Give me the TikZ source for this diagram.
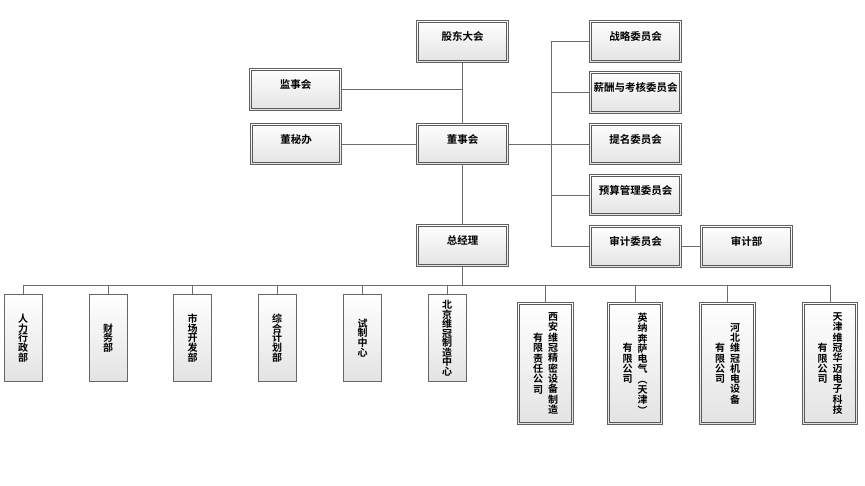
\documentclass[tikz,border=0pt]{standalone}
\usepackage{fontspec}
\setmainfont{Noto Sans CJK SC}[BoldFont={Noto Sans CJK SC Bold}]
\usetikzlibrary{positioning}
\newcommand{\vcol}[2][10pt]{\parbox[c]{1em}{\centering\lineskiplimit=-\maxdimen\baselineskip=#1 #2\par}}

\begin{document}
\begin{tikzpicture}[x=1pt,y=-1pt,
    rim/.style={draw=gray!75!black,line width=1.4pt,top color=white,bottom color=gray!22,inner sep=0pt,
      path picture={\draw[gray!70!black,line width=0.6pt]
        ([shift={(2pt,2pt)}]path picture bounding box.south west) rectangle
        ([shift={(-2pt,-2pt)}]path picture bounding box.north east);}},
    box/.style={rim,minimum width=91.5pt,minimum height=41.5pt,text height=8pt,text depth=10pt,
      font=\fontsize{10.5}{12}\selectfont\bfseries},
    dept/.style={draw=gray!80!black,line width=0.8pt,top color=white,bottom color=gray!22,
      minimum width=38pt,minimum height=87pt,inner sep=0pt,font=\fontsize{10}{10}\selectfont\bfseries},
    firm/.style={rim,minimum width=55.5pt,minimum height=121.5pt,font=\fontsize{10}{10}\selectfont\bfseries},
    link/.style={draw=gray!85!black,line width=0.9pt}]
  \useasboundingbox (0,0) rectangle (865,485);
  % top levels
  \node[box] (gd) at (462.5,41.5) {股东大会};
  \node[box] (js) at (295.5,89.5) {监事会};
  \node[box] (dmb) at (296,144) {董秘办};
  \node[box] (dsh) at (462.5,144) {董事会};
  \node[box] (zjl) at (462.5,245.5) {总经理};
  % committees
  \node[box] (zlwyh) at (635.5,41.5) {战略委员会};
  \node[box] (xckh) at (635.5,92.5) {薪酬与考核委员会};
  \node[box] (tmwyh) at (635.5,144) {提名委员会};
  \node[box] (ysgl) at (635.5,195) {预算管理委员会};
  \node[box] (sjwyh) at (635.5,246.5) {审计委员会};
  \node[box] (sjb) at (746.5,246.5) {审计部};
  % departments
  \node[dept] (rlxz) at (23,338) {\vcol[9.8pt]{人\\力\\行\\政\\部}};
  \node[dept] (cwb) at (108,338) {\vcol[9.8pt]{财\\务\\部}};
  \node[dept] (scb) at (192.5,338) {\vcol[9.8pt]{市\\场\\开\\发\\部}};
  \node[dept] (zhjh) at (277,338) {\vcol[9.8pt]{综\\合\\计\\划\\部}};
  \node[dept] (szzx) at (362.5,338) {\vcol[9.8pt]{试\\制\\中\\心}};
  \node[dept] (bjzz) at (447,338) {\vcol[9.5pt]{北\\京\\维\\冠\\制\\造\\中\\心}};
  % companies
  \node[firm] (xa) at (545.5,363.5) {\vcol[10.3pt]{有\\限\\责\\任\\公\\司}\hspace{5pt}\vcol[10.3pt]{西\\安\\维\\冠\\精\\密\\设\\备\\制\\造}};
  \node[firm] (ynbs) at (635,363.5) {\vcol[10.3pt]{有\\限\\公\\司}\hspace{5pt}\vcol[10.3pt]{英\\纳\\奔\\萨\\电\\气\\︵\\天\\津\\︶}};
  \node[firm] (hb) at (727.5,363.5) {\vcol[10.3pt]{有\\限\\公\\司}\hspace{5pt}\vcol[10.3pt]{河\\北\\维\\冠\\机\\电\\设\\备}};
  \node[firm] (tj) at (830,363.5) {\vcol[10.3pt]{有\\限\\公\\司}\hspace{5pt}\vcol[10.3pt]{天\\津\\维\\冠\\华\\迈\\电\\子\\科\\技}};
  % connectors
  \coordinate (rbus) at (551,0);
  \coordinate (bbus) at (0,285);
  \draw[link] (gd) -- (dsh) -- (zjl) -- (zjl.south |- bbus);
  \draw[link] (js.east) -- (js.east -| gd.south);
  \draw[link] (dmb) -- (dsh);
  \draw[link] (dsh.east) -- (dsh.east -| rbus);
  \draw[link] (zlwyh.west) -- (zlwyh.west -| rbus) |- (sjwyh.west);
  \foreach \n in {xckh,tmwyh,ysgl}
    \draw[link] (\n.west) -- (\n.west -| rbus);
  \draw[link] (sjwyh) -- (sjb);
  \draw[link] (rlxz.north |- bbus) -- (tj.north |- bbus);
  \foreach \n in {rlxz,cwb,scb,zhjh,szzx,bjzz,xa,ynbs,hb,tj}
    \draw[link] (\n.north) -- (\n.north |- bbus);
\end{tikzpicture}
\end{document}
